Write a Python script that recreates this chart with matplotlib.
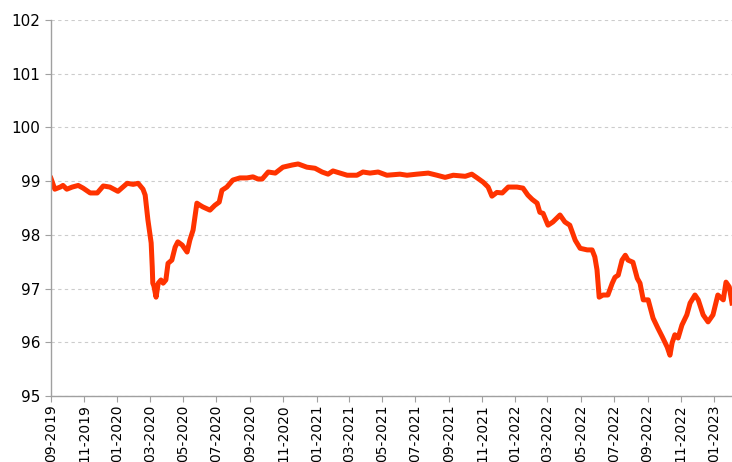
import matplotlib
matplotlib.use("Agg")
import matplotlib.pyplot as plt
import matplotlib.dates as mdates
import pandas as pd

# values
dates = [
    "2019-09-01", "2019-09-08", "2019-09-18", "2019-09-23", "2019-09-30", "2019-10-10",
    "2019-10-21", "2019-10-30", "2019-11-12", "2019-11-25", "2019-12-06", "2019-12-18",
    "2020-01-02", "2020-01-19", "2020-01-30", "2020-02-08", "2020-02-17", "2020-02-21",
    "2020-02-26", "2020-03-03", "2020-03-05", "2020-03-06", "2020-03-08", "2020-03-12",
    "2020-03-16", "2020-03-21", "2020-03-25", "2020-03-30", "2020-04-03", "2020-04-10",
    "2020-04-16", "2020-04-21", "2020-04-29", "2020-05-08", "2020-05-13", "2020-05-19",
    "2020-05-26", "2020-06-01", "2020-06-06", "2020-06-19", "2020-06-28", "2020-07-06",
    "2020-07-11", "2020-07-20", "2020-07-31", "2020-08-13", "2020-08-26", "2020-09-06",
    "2020-09-15", "2020-09-23", "2020-10-04", "2020-10-17", "2020-10-31", "2020-11-17",
    "2020-11-28", "2020-12-14", "2020-12-29", "2021-01-11", "2021-01-22", "2021-01-31",
    "2021-02-13", "2021-02-26", "2021-03-16", "2021-03-27", "2021-04-09", "2021-04-24",
    "2021-05-10", "2021-06-03", "2021-06-16", "2021-07-04", "2021-07-25", "2021-08-10",
    "2021-08-25", "2021-09-09", "2021-10-01", "2021-10-13", "2021-10-23", "2021-11-03",
    "2021-11-12", "2021-11-19", "2021-11-28", "2021-12-08", "2021-12-19", "2022-01-04",
    "2022-01-15", "2022-01-24", "2022-02-01", "2022-02-10", "2022-02-15", "2022-02-21",
    "2022-03-02", "2022-03-11", "2022-03-24", "2022-04-02", "2022-04-11", "2022-04-21",
    "2022-04-30", "2022-05-13", "2022-05-22", "2022-05-27", "2022-05-31", "2022-06-04",
    "2022-06-11", "2022-06-20", "2022-06-28", "2022-07-03", "2022-07-09", "2022-07-16",
    "2022-07-22", "2022-07-27", "2022-08-05", "2022-08-13", "2022-08-18", "2022-08-24",
    "2022-09-02", "2022-09-11", "2022-09-20", "2022-09-28", "2022-10-07", "2022-10-12",
    "2022-10-16", "2022-10-21", "2022-10-27", "2022-11-03", "2022-11-12", "2022-11-18",
    "2022-11-27", "2022-12-03", "2022-12-12", "2022-12-21", "2022-12-30", "2023-01-08",
    "2023-01-18", "2023-01-23", "2023-01-29", "2023-02-03",
]
values = [
    99.05, 98.85, 98.89, 98.92, 98.85, 98.89,
    98.92, 98.87, 98.78, 98.78, 98.91, 98.89,
    98.81, 98.96, 98.94, 98.96, 98.85, 98.74,
    98.28, 97.85, 97.40, 97.10, 97.05, 96.84,
    97.10, 97.16, 97.10, 97.16, 97.47, 97.53,
    97.77, 97.87, 97.81, 97.68, 97.90, 98.09,
    98.59, 98.55, 98.52, 98.46, 98.55, 98.61,
    98.83, 98.89, 99.02, 99.06, 99.06, 99.08,
    99.04, 99.04, 99.17, 99.15, 99.26, 99.30,
    99.32, 99.26, 99.24, 99.17, 99.13, 99.19,
    99.15, 99.11, 99.11, 99.17, 99.15, 99.17,
    99.11, 99.13, 99.11, 99.13, 99.15, 99.11,
    99.07, 99.11, 99.09, 99.13, 99.06, 98.98,
    98.89, 98.72, 98.79, 98.78, 98.89, 98.89,
    98.87, 98.74, 98.66, 98.59, 98.42, 98.40,
    98.18, 98.24, 98.37, 98.24, 98.18, 97.90,
    97.75, 97.72, 97.72, 97.59, 97.35, 96.84,
    96.88, 96.88, 97.10, 97.21, 97.25, 97.53,
    97.62, 97.53, 97.49, 97.19, 97.10, 96.79,
    96.79, 96.45, 96.26, 96.10, 95.91, 95.76,
    95.99, 96.14, 96.08, 96.32, 96.51, 96.73,
    96.88, 96.79, 96.51, 96.38, 96.51, 96.88,
    96.79, 97.12, 97.03, 96.73,
]
yticks = [95, 96, 97, 98, 99, 100, 101, 102]

x = pd.to_datetime(dates)

fig = plt.figure(figsize=(7.32, 4.62), dpi=100)
ax = fig.add_axes([51 / 732, 1 - 396 / 462, 1 - 51 / 732, (396 - 20) / 462])

ax.plot(x, values, color="#FF3300", linewidth=3.6, solid_joinstyle="round")

ax.set_ylim(95, 102)
ax.set_yticks(yticks)
ax.set_xlim(pd.Timestamp("2019-09-01"), pd.Timestamp("2023-02-03"))
ax.xaxis.set_major_locator(mdates.MonthLocator(bymonth=[1, 3, 5, 7, 9, 11]))
ax.xaxis.set_major_formatter(mdates.DateFormatter("%m-%Y"))
plt.setp(ax.get_xticklabels(), rotation=90, ha="center", va="top")

ax.yaxis.grid(True, linestyle=(0, (3, 3)), color="#cccccc", linewidth=0.8)
ax.set_axisbelow(True)
for s in ["top", "right"]:
    ax.spines[s].set_visible(False)
for s in ["left", "bottom"]:
    ax.spines[s].set_color("#a0a0a0")
    ax.spines[s].set_linewidth(1)
ax.tick_params(axis="both", colors="#a0a0a0", length=4, labelcolor="black")
ax.tick_params(axis="y", labelsize=11)
ax.tick_params(axis="x", labelsize=10, pad=2)

fig.savefig("out.png", dpi=100)
